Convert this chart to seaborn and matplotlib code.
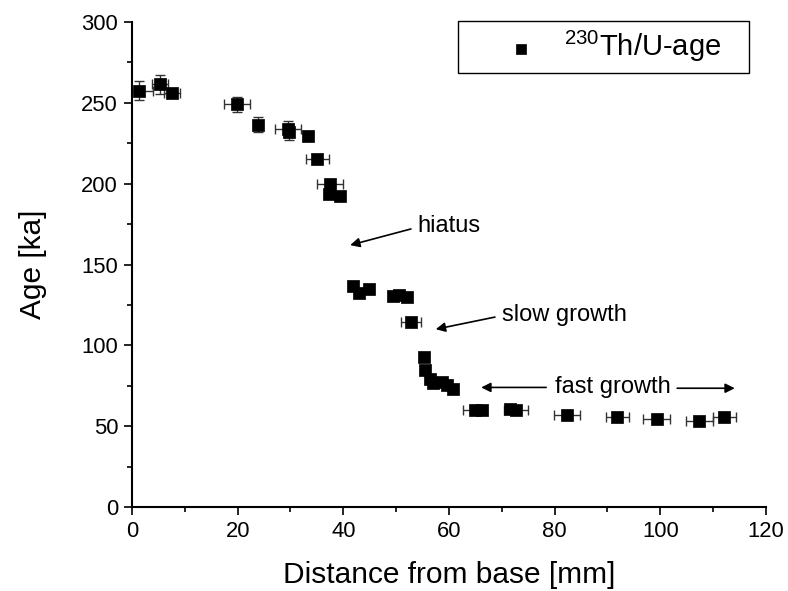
import matplotlib
matplotlib.use("Agg")
import matplotlib.pyplot as plt
import seaborn as sns
import pandas as pd
import numpy as np

distance = [1.3, 5.3, 7.6, 19.9, 23.9, 29.5, 29.7, 33.4, 35.1, 37.5, 37.3, 39.4,
            41.9, 43.0, 44.9, 49.5, 50.5, 52.1, 52.8,
            55.3, 55.5, 56.4, 57.0, 58.6, 59.6, 60.8,
            64.9, 66.2, 71.6, 72.7, 82.3, 91.9, 99.3, 107.4, 112.1]
age = [257.5, 261.5, 256.0, 249.0, 236.5, 234.0, 232.0, 229.5, 215.0, 199.5, 193.5, 192.5,
       137.0, 132.5, 135.0, 130.5, 131.0, 130.0, 114.5,
       93.0, 84.5, 79.5, 77.0, 77.5, 75.5, 73.0,
       60.0, 60.0, 60.5, 60.0, 57.0, 55.5, 54.5, 53.0, 55.5]
dist_err = [2.7, 1.5, 1.5, 2.5, 0, 2.5, 0, 0, 2.2, 2.5, 0, 0,
            0, 0, 0, 0, 0, 0, 1.9,
            0, 0, 0, 0, 0, 0, 0,
            2.3, 0, 0, 2.3, 2.5, 2.1, 2.6, 2.5, 2.2]
age_err = [6, 6, 0, 4.5, 4.5, 5, 5, 0, 0, 0, 0, 0,
           0, 0, 0, 0, 0, 0, 0,
           0, 0, 0, 0, 0, 0, 0,
           0, 0, 0, 0, 0, 0, 0, 0, 0]

legend_label = r"$^{230}$Th/U-age"

sns.set_style("ticks")
plt.rcParams["font.family"] = ["Liberation Sans", "DejaVu Sans"]
plt.rcParams["mathtext.fontset"] = "custom"
plt.rcParams["mathtext.rm"] = "Liberation Sans"
plt.rcParams["text.color"] = "black"
plt.rcParams["axes.labelcolor"] = "black"
plt.rcParams["xtick.color"] = "black"
plt.rcParams["ytick.color"] = "black"

fig = plt.figure(figsize=(7.88, 5.91), dpi=100)
ax = fig.add_axes([0.1675, 0.142, 0.8045, 0.8208])

df = pd.DataFrame({"distance": distance, "age": age})

ax.errorbar(distance, age, xerr=dist_err, yerr=age_err, fmt="none",
            ecolor="#333333", elinewidth=1.0, capsize=3.5, capthick=1.0, zorder=2)
sns.scatterplot(data=df, x="distance", y="age", marker="s", s=80, color="black",
                edgecolor="black", linewidth=0.5, ax=ax, zorder=3, label=legend_label)

ax.set_xlim(0, 120)
ax.set_ylim(0, 300)
ax.set_xticks(np.arange(0, 121, 20))
ax.set_xticks(np.arange(10, 120, 20), minor=True)
ax.set_yticks(np.arange(0, 301, 50))
ax.set_yticks(np.arange(25, 300, 50), minor=True)
ax.tick_params(axis="both", which="major", direction="out", length=6, width=1.2,
               labelsize=15.8, colors="black", pad=4)
ax.tick_params(axis="both", which="minor", direction="out", length=3.5, width=1.2)
for s in ["left", "bottom"]:
    ax.spines[s].set_linewidth(1.5)
    ax.spines[s].set_color("black")
sns.despine(ax=ax)
ax.spines["left"].set_zorder(5)

ax.set_xlabel("Distance from base [mm]", fontsize=21.5, labelpad=13.5, color="black")
ax.set_ylabel("Age [ka]", fontsize=21.5, labelpad=25, color="black")

leg = ax.legend(loc="upper left", bbox_to_anchor=(0.514, 1.003, 0.459, 0.0),
                mode="expand", fontsize=21,
                frameon=True, fancybox=False, framealpha=1, edgecolor="black",
                borderpad=0.3, handletextpad=-0.42, markerscale=0.85, handlelength=3.75,
                borderaxespad=0)
leg.get_frame().set_linewidth(1.0)
for t in leg.get_texts():
    t.set_color("black")

arrow_kw = dict(arrowstyle="-|>", color="black", lw=1.2, mutation_scale=14,
                shrinkA=0, shrinkB=0)
fs_ann = 17
ax.annotate("", xy=(41.3, 162), xytext=(52.8, 172), arrowprops=arrow_kw)
ax.text(54.1, 174, "hiatus", fontsize=fs_ann, va="center", ha="left")
ax.annotate("", xy=(57.5, 110), xytext=(68.7, 117.5), arrowprops=arrow_kw)
ax.text(70.0, 119, "slow growth", fontsize=fs_ann, va="center", ha="left")
ax.annotate("", xy=(66.1, 74), xytext=(78.4, 74), arrowprops=arrow_kw)
ax.annotate("", xy=(114.1, 73.5), xytext=(103.2, 73.5), arrowprops=arrow_kw)
ax.text(80.1, 74.5, "fast growth", fontsize=fs_ann, va="center", ha="left")

fig.savefig("out.png", dpi=100)
